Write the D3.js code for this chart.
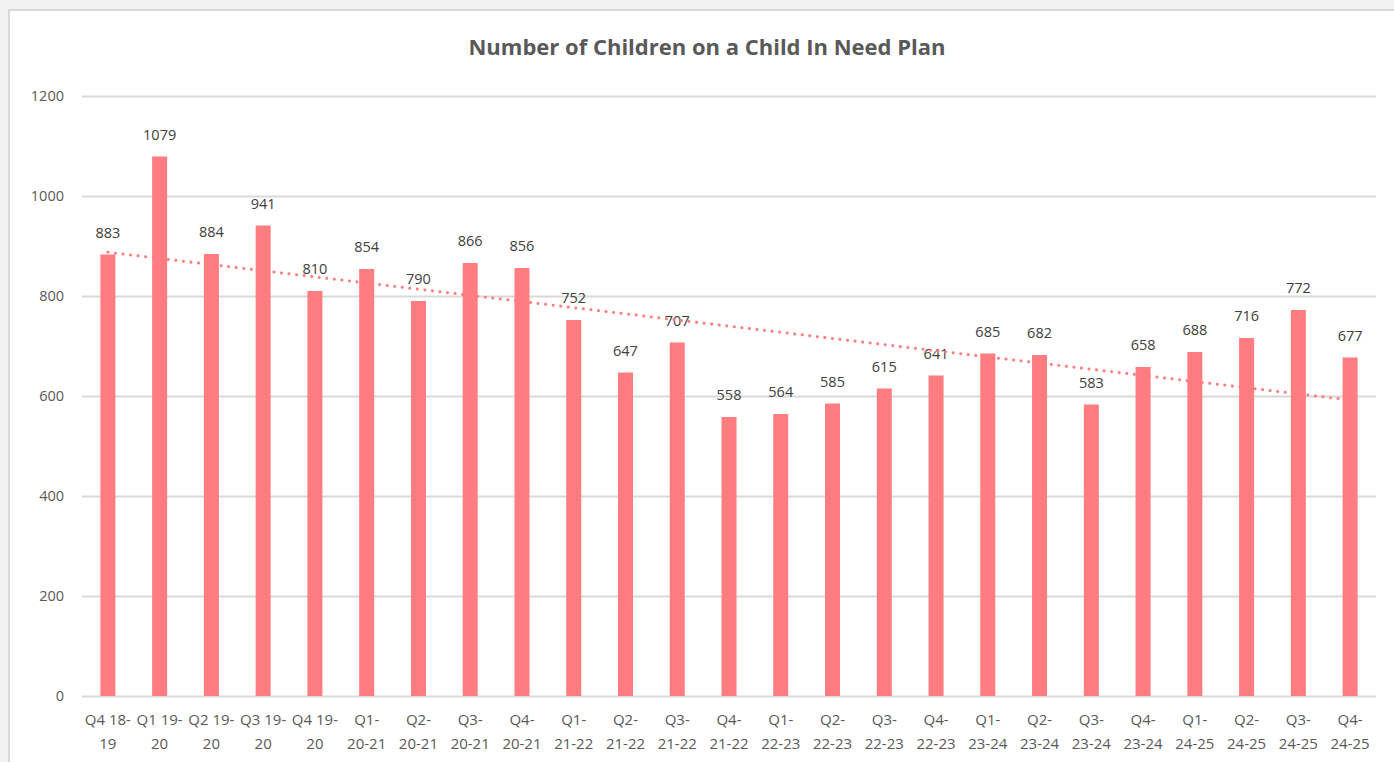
<!DOCTYPE html>
<html>
<head>
<meta charset="utf-8">
<script src="https://cdn.jsdelivr.net/npm/d3@7"></script>
<style>
  body { margin: 0; background: #f2f2f2; overflow: hidden; }
  svg { display: block; font-family: "Open Sans", "Noto Sans", sans-serif; }
</style>
</head>
<body>
<svg width="1394" height="762"></svg>
<script>
// quarters shown on the x axis (two lines each)
const quarters = [
  ["Q4 18-", "19"], ["Q1 19-", "20"], ["Q2 19-", "20"], ["Q3 19-", "20"], ["Q4 19-", "20"],
  ["Q1-", "20-21"], ["Q2-", "20-21"], ["Q3-", "20-21"], ["Q4-", "20-21"],
  ["Q1-", "21-22"], ["Q2-", "21-22"], ["Q3-", "21-22"], ["Q4-", "21-22"],
  ["Q1-", "22-23"], ["Q2-", "22-23"], ["Q3-", "22-23"], ["Q4-", "22-23"],
  ["Q1-", "23-24"], ["Q2-", "23-24"], ["Q3-", "23-24"], ["Q4-", "23-24"],
  ["Q1-", "24-25"], ["Q2-", "24-25"], ["Q3-", "24-25"], ["Q4-", "24-25"]
];
const children = [883, 1079, 884, 941, 810, 854, 790, 866, 856, 752, 647, 707, 558,
                  564, 585, 615, 641, 685, 682, 583, 658, 688, 716, 772, 677];
const yTicks = [0, 200, 400, 600, 800, 1000, 1200];

const svg = d3.select('svg');
const barColor = '#ff7c80';

// white chart panel
svg.append('rect')
  .attr('x', 9).attr('y', 10)
  .attr('width', 1400).attr('height', 770)
  .attr('fill', '#fff')
  .attr('stroke', '#d9d9d9')
  .attr('stroke-width', 2);

const margin = { left: 82, right: 18, top: 96, bottom: 66 };
const x = d3.scaleBand()
  .domain(d3.range(children.length))
  .range([margin.left, 1394 - margin.right])
  .paddingInner(0.71)
  .paddingOuter(0.355);
const y = d3.scaleLinear().domain([0, 1200]).range([696, 96]);

// title
svg.append('text')
  .attr('x', 707).attr('y', 55)
  .attr('text-anchor', 'middle')
  .attr('font-size', 22).attr('font-weight', 'bold')
  .attr('fill', '#595959')
  .text('Number of Children on a Child In Need Plan');

// gridlines + y labels
const yAxis = svg.append('g')
  .attr('transform', `translate(${margin.left},0)`)
  .call(d3.axisLeft(y).tickValues(yTicks).tickFormat(d3.format('d'))
    .tickSize(-(1394 - margin.right - margin.left)).tickPadding(18));
yAxis.select('.domain').remove();
yAxis.selectAll('.tick line').attr('stroke', '#d9d9d9').attr('stroke-width', 2);
yAxis.selectAll('.tick text').attr('font-size', 14.5).attr('fill', '#595959')
  .attr('font-family', '"Open Sans", sans-serif');

// bars
svg.append('g').selectAll('rect')
  .data(children)
  .join('rect')
  .attr('x', (d, i) => x(i))
  .attr('y', d => y(d))
  .attr('width', x.bandwidth())
  .attr('height', d => y(0) - y(d))
  .attr('fill', barColor);

// data labels
svg.append('g').selectAll('text')
  .data(children)
  .join('text')
  .attr('x', (d, i) => x(i) + x.bandwidth() / 2)
  .attr('y', d => y(d) - 17)
  .attr('text-anchor', 'middle')
  .attr('font-size', 14.5)
  .attr('fill', '#404040')
  .text(d => d);

// linear trendline (least squares over the bars)
const n = children.length;
const mx = d3.mean(d3.range(n));
const my = d3.mean(children);
const slope = d3.sum(children, (v, i) => (i - mx) * (v - my)) / d3.sum(d3.range(n), i => (i - mx) * (i - mx));
const icpt = my - slope * mx;
const trend = [0, n - 1].map(i => [x(i) + x.bandwidth() / 2, y(icpt + slope * i)]);
svg.append('path')
  .attr('d', d3.line()(trend))
  .attr('fill', 'none')
  .attr('stroke', barColor)
  .attr('stroke-width', 3)
  .attr('stroke-linecap', 'round')
  .attr('stroke-dasharray', '0.1 7.5');

// x labels
const xl = svg.append('g').selectAll('text')
  .data(quarters)
  .join('text')
  .attr('text-anchor', 'middle')
  .attr('font-size', 15)
  .attr('fill', '#595959');
xl.each(function(d, i) {
  const cx = x(i) + x.bandwidth() / 2;
  d3.select(this).append('tspan').attr('x', cx).attr('y', 725).text(d[0]);
  d3.select(this).append('tspan').attr('x', cx).attr('y', 749).text(d[1]);
});
</script>
</body>
</html>
